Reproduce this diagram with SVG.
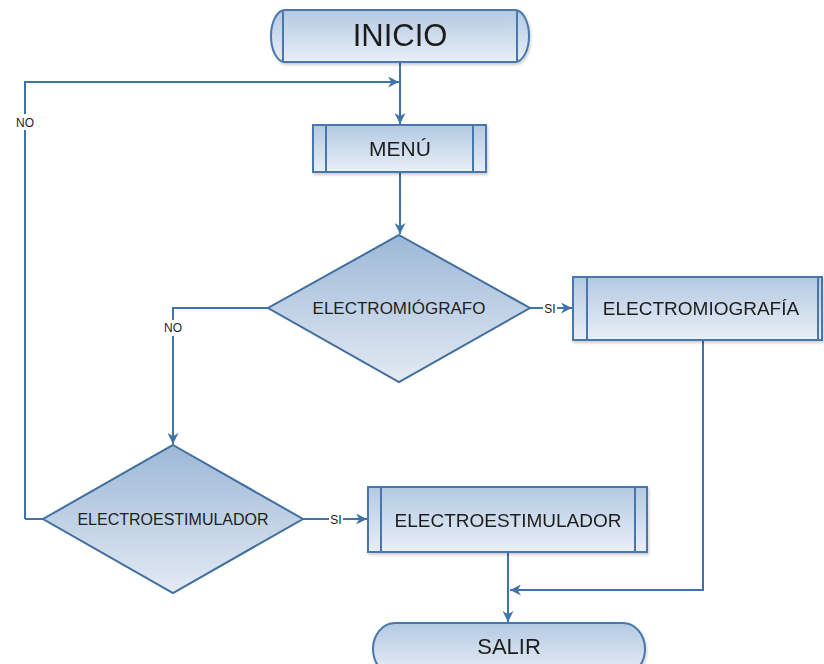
<svg xmlns="http://www.w3.org/2000/svg" width="824" height="664" viewBox="0 0 824 664">
<style>
.shape{stroke:#4677ad;stroke-width:2;fill:url(#g)}
.dia{stroke:#3f6e9f;stroke-width:2;fill:url(#gd)}
.bar{stroke:#4677ad;stroke-width:2;fill:none}
.t{font-family:"Liberation Sans",Arial,sans-serif;fill:#1e1e1e;text-anchor:middle}
.lbl{font-family:"Liberation Sans",Arial,sans-serif;font-size:12px;fill:#222;text-anchor:middle}
.c{stroke:#3f74aa;stroke-width:2;fill:none}
.ca{stroke:#3f74aa;stroke-width:2;fill:none;marker-end:url(#ah)}
</style>
<defs>
<linearGradient id="g" x1="0" y1="0" x2="0" y2="1">
<stop offset="0" stop-color="#b3c9e2"/><stop offset="1" stop-color="#e9eff7"/>
</linearGradient>
<linearGradient id="gd" x1="0" y1="0" x2="0" y2="1">
<stop offset="0" stop-color="#9cb8d7"/><stop offset="1" stop-color="#e3eaf3"/>
</linearGradient>
<filter id="sh" x="-10%" y="-10%" width="120%" height="130%">
<feDropShadow dx="1" dy="2" stdDeviation="1.5" flood-color="#000" flood-opacity="0.2"/>
</filter>
<marker id="ah" viewBox="0 0 10 10" refX="10" refY="5" markerWidth="11" markerHeight="11" markerUnits="userSpaceOnUse" orient="auto">
<path d="M0,0 L10,5 L0,10 L3,5 z" fill="#3f74aa"/>
</marker>
</defs>
<rect width="824" height="664" fill="#fff"/>

<g id="connectors">
<path class="c" d="M400,62 V125"/>
<path class="ca" d="M400,82 V124"/>
<path class="c" d="M25,519 H43"/>
<path class="ca" d="M25,519 V82 H399"/>
<path class="ca" d="M400,172 V234"/>
<path class="ca" d="M268,308 H173 V444"/>
<path class="ca" d="M530,308 H572"/>
<path class="ca" d="M303,519 H367"/>
<path class="ca" d="M508,552 V622"/>
<path class="ca" d="M703,340 V590 H510"/>
<rect x="13" y="114" width="24" height="16" fill="#fff"/>
<text class="lbl" x="25" y="127">NO</text>
<rect x="162" y="320" width="23" height="16" fill="#fff"/>
<text class="lbl" x="173" y="332">NO</text>
<rect x="543" y="300" width="14" height="16" fill="#fff"/>
<text class="lbl" x="550" y="313">SI</text>
<rect x="329" y="511" width="14" height="16" fill="#fff"/>
<text class="lbl" x="336" y="524">SI</text>
</g>

<g id="inicio" filter="url(#sh)">
<rect class="shape" x="271" y="10" width="258" height="52" rx="14" ry="26"/>
<path class="bar" d="M283,11 V61 M517,11 V61"/>
<text class="t" x="400" y="46" font-size="31">INICIO</text>
</g>

<g id="menu" filter="url(#sh)">
<rect class="shape" x="313" y="125" width="173" height="47"/>
<path class="bar" d="M326,125 V172 M473,125 V172"/>
<text class="t" x="400" y="156" font-size="21">MENÚ</text>
</g>

<g id="electromiografo">
<polygon class="dia" points="399,235 530,308 399,382 268,308"/>
<text class="t" x="399" y="314" font-size="17">ELECTROMIÓGRAFO</text>
</g>

<g id="electromiografia" filter="url(#sh)">
<rect class="shape" x="573" y="277" width="249" height="63"/>
<path class="bar" d="M587,277 V340 M818,277 V340"/>
<text class="t" x="701" y="315" font-size="19">ELECTROMIOGRAFÍA</text>
</g>

<g id="electroestimulador-decision">
<polygon class="dia" points="173,445 303,519 173,593 43,519"/>
<text class="t" x="173" y="525" font-size="16">ELECTROESTIMULADOR</text>
</g>

<g id="electroestimulador" filter="url(#sh)">
<rect class="shape" x="368" y="487" width="279" height="65"/>
<path class="bar" d="M381,487 V552 M635,487 V552"/>
<text class="t" x="508" y="527" font-size="19">ELECTROESTIMULADOR</text>
</g>

<g id="salir" filter="url(#sh)">
<rect class="shape" x="373" y="623" width="272" height="52" rx="22" ry="26"/>
<text class="t" x="509" y="654" font-size="22">SALIR</text>
</g>
</svg>
